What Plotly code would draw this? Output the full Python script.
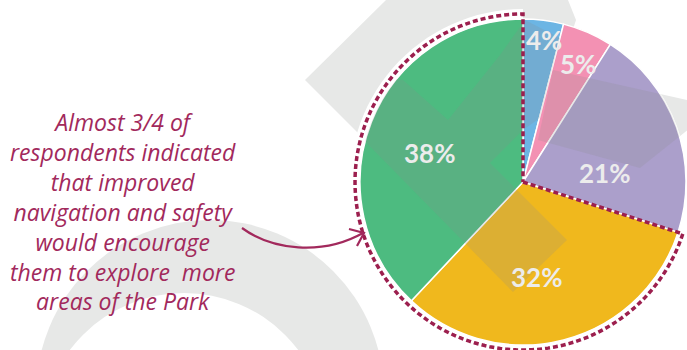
import numpy as np
import plotly.graph_objects as go

W, H = 687, 350

# survey shares, clockwise from 12 o'clock
shares = [4, 5, 21, 32, 38]
share_labels = ["4%", "5%", "21%", "32%", "38%"]
slice_colors = ["#6cb5e4", "#f391b3", "#ab9fcb", "#f0b81d", "#4dbb80"]
highlight_slices = [3, 4]  # 32% + 38% -> "almost 3/4"
note_lines = ["Almost 3/4 of", "respondents indicated", "that improved",
              "navigation and safety", "would encourage",
              "them to explore&nbsp; more", "areas of the Park"]

# pie geometry in page pixels
CX, CY, R = 523, 182, 163
MAROON = "#9c1f4e"
TEXT_MAROON = "#a2295c"
GRAY = "#e7e8e7"
SHADE = "rgba(142,142,142,0.2)"


def to_paper(x, y):
    return x / W, 1 - y / H


def svg_path(pts, close=True):
    s = "M " + " L ".join("%.5f,%.5f" % to_paper(x, y) for x, y in pts)
    return s + (" Z" if close else "")


def polar(theta_deg, r):
    t = np.radians(theta_deg)
    return CX + r * np.sin(t), CY - r * np.cos(t)


def circle_box(cx, cy, r):
    x0, y1 = to_paper(cx - r, cy - r)
    x1, y0 = to_paper(cx + r, cy + r)
    return dict(x0=x0, x1=x1, y0=y0, y1=y1)


def clip_to_circle(poly, cx, cy, r, n=180):
    # Sutherland-Hodgman against a many-sided polygon approximating the pie disc
    t = np.linspace(0, 2 * np.pi, n, endpoint=False)
    ring = list(zip(cx + r * np.cos(t), cy + r * np.sin(t)))
    out = list(poly)
    for i in range(n):
        a, b = ring[i], ring[(i + 1) % n]

        def inside(p):
            return (b[0] - a[0]) * (p[1] - a[1]) - (b[1] - a[1]) * (p[0] - a[0]) >= 0

        def cross_pt(p, q):
            x1, y1 = p
            x2, y2 = q
            x3, y3 = a
            x4, y4 = b
            d = (x1 - x2) * (y3 - y4) - (y1 - y2) * (x3 - x4)
            tt = ((x1 - x3) * (y3 - y4) - (y1 - y3) * (x3 - x4)) / d
            return x1 + tt * (x2 - x1), y1 + tt * (y2 - y1)

        inp, out = out, []
        if not inp:
            break
        prev = inp[-1]
        for cur in inp:
            if inside(cur):
                if not inside(prev):
                    out.append(cross_pt(prev, cur))
                out.append(cur)
            elif inside(prev):
                out.append(cross_pt(prev, cur))
            prev = cur
    return out


shapes = []


def add_poly(pts, fill, layer="below"):
    shapes.append(dict(type="path", path=svg_path(pts), xref="paper", yref="paper",
                       fillcolor=fill, line=dict(width=0), layer=layer))


def add_circle(cx, cy, r, fill):
    shapes.append(dict(type="circle", xref="paper", yref="paper", fillcolor=fill,
                       line=dict(width=0), layer="below", **circle_box(cx, cy, r)))


# background watermark shapes
band_top = [(305, 80), (386, 0), (568, 0), (576, 20), (523, 182), (400, 175)]
band_right = [(553, 70), (700, 103), (700, 120), (640, 168), (538, 140)]
add_poly(band_top, GRAY)
add_poly(band_right, GRAY)
halo = [(CX, CY)] + [polar(a, 173) for a in np.linspace(180, 360, 60)]
add_poly(halo, "white")
add_circle(210, 394, 174, GRAY)
add_circle(184, 436, 143, "white")

# watermark showing through the pie
band_inner = [(290, 65), (403, 80), (448, 120), (500, 55), (525, 20), (560, 38),
              (540, 118), (523, 130), (490, 163), (567, 240), (513, 292)]
add_poly(clip_to_circle(band_inner, CX, CY, R), SHADE, "above")
add_poly(clip_to_circle(band_right, CX, CY, R), SHADE, "above")

# dotted outline around the highlighted slices
total = sum(shares)
start_deg = sum(shares[:highlight_slices[0]]) / total * 360
end_deg = sum(shares[:highlight_slices[-1] + 1]) / total * 360
outline = [(CX, CY)] + [polar(a, 168) for a in np.linspace(start_deg, end_deg, 140)] + [(CX, CY)]
shapes.append(dict(type="path", path=svg_path(outline, close=False), xref="paper", yref="paper",
                   line=dict(color=MAROON, width=3.5, dash="5px,3px"), layer="above"))

# curved arrow from note to the pie
p0, c1, c2, p1 = (242, 228), (272, 250), (322, 256), (363, 233)
arrow = "M %.5f,%.5f C %.5f,%.5f %.5f,%.5f %.5f,%.5f" % (*to_paper(*p0), *to_paper(*c1),
                                                        *to_paper(*c2), *to_paper(*p1))
shapes.append(dict(type="path", path=arrow, xref="paper", yref="paper",
                   line=dict(color=TEXT_MAROON, width=2.2), layer="above"))
head = [(349, 229), (364, 233), (357, 246)]
shapes.append(dict(type="path", path=svg_path(head, close=False), xref="paper", yref="paper",
                   line=dict(color=TEXT_MAROON, width=2.2), layer="above"))

fig = go.Figure()
fig.add_trace(go.Pie(
    values=shares,
    labels=share_labels,
    sort=False,
    direction="clockwise",
    rotation=0,
    textinfo="none",
    hoverinfo="skip",
    showlegend=False,
    marker=dict(colors=slice_colors, line=dict(color="white", width=1.5)),
    domain=dict(x=[(CX - R) / W, (CX + R) / W], y=[1 - (CY + R) / H, 1 - (CY - R) / H]),
))

# percentage labels placed around each slice's mid angle
radial_frac = [0.88, 0.8, 0.5, 0.59, 0.6]
angle_nudge = [1.2, 1.4, 13.5, 6.4, -4.6]
annotations = []
cum = 0
for i, v in enumerate(shares):
    mid = (cum + v / 2) / total * 360 + angle_nudge[i]
    cum += v
    lx, ly = polar(mid, radial_frac[i] * R)
    ax, ay = to_paper(lx, ly)
    annotations.append(dict(x=ax, y=ay, xref="paper", yref="paper", text=share_labels[i],
                            showarrow=False, xanchor="center", yanchor="middle",
                            font=dict(family="Lato", size=26, color="#ececec", weight="bold")))

nx, ny = to_paper(123, 211)
annotations.append(dict(x=nx, y=ny, xref="paper", yref="paper", text="<br>".join(note_lines),
                        showarrow=False, xanchor="center", yanchor="middle", align="center",
                        font=dict(family="Open Sans", size=23, color=TEXT_MAROON, style="italic")))

fig.update_layout(
    width=W, height=H,
    margin=dict(l=0, r=0, t=0, b=0),
    paper_bgcolor="white",
    plot_bgcolor="white",
    shapes=shapes,
    annotations=annotations,
)

# page body has a default 8px margin; drop it so the figure fills the window
fig.write_html("out.html", config={"displayModeBar": False},
               post_script="document.body.style.margin='0';")
